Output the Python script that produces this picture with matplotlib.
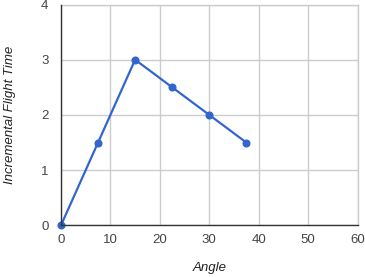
import matplotlib
matplotlib.use("Agg")
import matplotlib.pyplot as plt

# data
angle = [0, 7.5, 15, 22.5, 30, 37.5]
flight_time = [0, 1.5, 3, 2.5, 2, 1.5]
x_ticks = [0, 10, 20, 30, 40, 50, 60]
y_ticks = [0, 1, 2, 3, 4]

plt.rcParams['font.family'] = ['Liberation Sans', 'DejaVu Sans']

fig = plt.figure(figsize=(3.65, 2.77), dpi=100)
ax = fig.add_axes([61/365, 1 - 225.3/277, (357.5 - 61)/365, (225.3 - 4.5)/277])

ax.plot(angle, flight_time, color="#3366cc", linewidth=1.6,
        marker='o', markersize=4.8, zorder=3, clip_on=False)

ax.set_xlim(0, 60)
ax.set_ylim(0, 4)
ax.set_xticks(x_ticks)
ax.set_yticks(y_ticks)
ax.grid(True, color="#cccccc", linewidth=1)
ax.set_axisbelow(True)

for side in ['top', 'right']:
    ax.spines[side].set_color("#cccccc")
    ax.spines[side].set_linewidth(1)
for side in ['left', 'bottom']:
    ax.spines[side].set_color("#333333")
    ax.spines[side].set_linewidth(1)
    ax.spines[side].set_zorder(4)

ax.tick_params(length=0, labelsize=9.5, colors="#444444", pad=6)
ax.tick_params(axis='y', pad=9)

ax.set_xlabel('Angle', fontsize=9.5, style='italic', color="#222222", labelpad=12)
ax.set_ylabel('Incremental Flight Time', fontsize=9.5, style='italic', color="#222222", labelpad=18)

fig.savefig("out.png", dpi=100)
